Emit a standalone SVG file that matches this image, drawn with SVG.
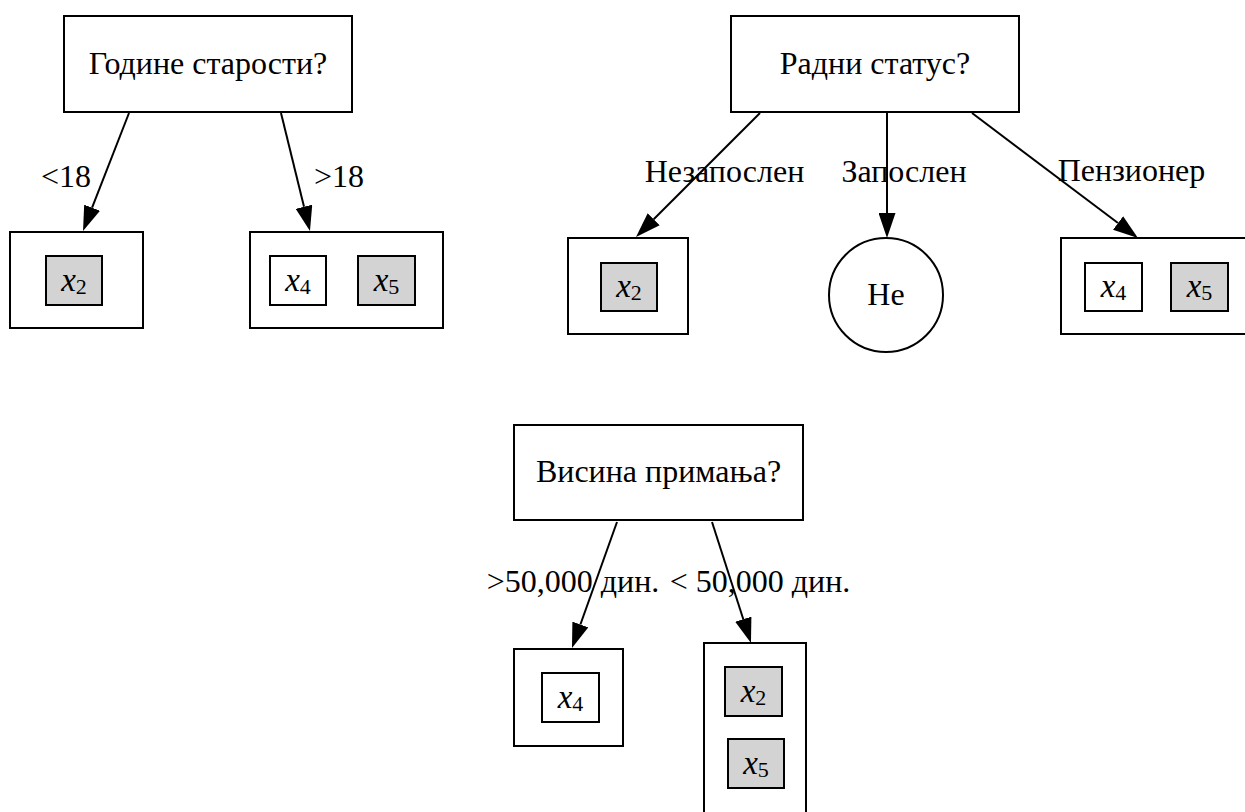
<svg xmlns="http://www.w3.org/2000/svg" width="1245" height="812" viewBox="0 0 1245 812">
  <style>
    .box { fill: #ffffff; stroke: #000000; stroke-width: 2; }
    .item { fill: #ffffff; stroke: #000000; stroke-width: 2; }
    .item.pos { fill: #d3d3d3; }
    .edge { fill: none; stroke: #000000; stroke-width: 2; }
    text { font-family: "Liberation Serif", "Times New Roman", serif; fill: #000000; }
    .q { font-size: 32px; text-anchor: middle; }
    .lbl { font-size: 32px; text-anchor: middle; }
    .var { font-size: 33px; font-style: italic; text-anchor: middle; }
    .sub { font-size: 22px; font-style: normal; }
  </style>
  <defs>
    <marker id="arrow" markerUnits="userSpaceOnUse" markerWidth="25" markerHeight="17" viewBox="0 0 25 17" refX="0" refY="8.5" orient="auto">
      <path d="M0,0 L25,8.5 L0,17 Z" fill="#000000"/>
    </marker>
  </defs>

  <!-- connectors -->
  <g id="edges">
    <line class="edge" x1="129" y1="113" x2="92.1" y2="207.7" marker-end="url(#arrow)"/>
    <line class="edge" x1="281" y1="113" x2="304.0" y2="206.7" marker-end="url(#arrow)"/>
    <line class="edge" x1="760" y1="113" x2="653.7" y2="219.3" marker-end="url(#arrow)"/>
    <line class="edge" x1="887" y1="113" x2="887" y2="213" marker-end="url(#arrow)"/>
    <line class="edge" x1="972" y1="113" x2="1118.0" y2="223.0" marker-end="url(#arrow)"/>
    <line class="edge" x1="617" y1="522" x2="580.4" y2="624.5" marker-end="url(#arrow)"/>
    <line class="edge" x1="712" y1="522" x2="743.3" y2="619.2" marker-end="url(#arrow)"/>
  </g>

  <!-- edge labels -->
  <g id="edge-labels">
    <text class="lbl" x="66" y="187">&lt;18</text>
    <text class="lbl" x="339" y="187">&gt;18</text>
    <text class="lbl" x="724.5" y="182">Незапослен</text>
    <text class="lbl" x="904" y="182">Запослен</text>
    <text class="lbl" x="1131.5" y="181">Пензионер</text>
    <text class="lbl" x="573" y="592">&gt;50,000 дин.</text>
    <text class="lbl" x="760" y="592">&lt; 50,000 дин.</text>
  </g>

  <!-- age tree -->
  <g id="age">
    <rect class="box" x="64" y="16" width="288" height="96"/>
    <text class="q" x="208" y="74">Године старости?</text>
  </g>
  <g id="age-under18">
    <rect class="box" x="10" y="232" width="133" height="96"/>
    <rect class="item pos" x="46" y="256" width="56" height="49"/>
    <text class="var" x="74" y="290.5">x<tspan class="sub" dy="3">2</tspan></text>
  </g>
  <g id="age-over18">
    <rect class="box" x="250" y="232" width="193" height="96"/>
    <rect class="item" x="270" y="256" width="56" height="49"/>
    <text class="var" x="298" y="290.5">x<tspan class="sub" dy="3">4</tspan></text>
    <rect class="item pos" x="358" y="256" width="57" height="49"/>
    <text class="var" x="386.5" y="290.5">x<tspan class="sub" dy="3">5</tspan></text>
  </g>

  <!-- employment tree -->
  <g id="employment">
    <rect class="box" x="731" y="16" width="288" height="96"/>
    <text class="q" x="875" y="74">Радни статус?</text>
  </g>
  <g id="employment-unemployed">
    <rect class="box" x="568" y="238" width="120" height="96"/>
    <rect class="item pos" x="601" y="263" width="56" height="48"/>
    <text class="var" x="629" y="297">x<tspan class="sub" dy="3">2</tspan></text>
  </g>
  <g id="employment-employed">
    <circle class="box" cx="886" cy="295" r="57"/>
    <text class="q" x="886" y="305">Не</text>
  </g>
  <g id="employment-retired">
    <rect class="box" x="1061" y="238" width="200" height="96"/>
    <rect class="item" x="1085" y="263" width="57" height="48"/>
    <text class="var" x="1113.5" y="297">x<tspan class="sub" dy="3">4</tspan></text>
    <rect class="item pos" x="1171" y="263" width="57" height="48"/>
    <text class="var" x="1199.5" y="297">x<tspan class="sub" dy="3">5</tspan></text>
  </g>

  <!-- income tree -->
  <g id="income">
    <rect class="box" x="514" y="425" width="289" height="95"/>
    <text class="q" x="658.5" y="482">Висина примања?</text>
  </g>
  <g id="income-high">
    <rect class="box" x="514" y="649" width="109" height="97"/>
    <rect class="item" x="542" y="673" width="57" height="49"/>
    <text class="var" x="570.5" y="707.5">x<tspan class="sub" dy="3">4</tspan></text>
  </g>
  <g id="income-low">
    <rect class="box" x="704" y="643" width="102" height="190"/>
    <rect class="item pos" x="725" y="667" width="57" height="49"/>
    <text class="var" x="753.5" y="701.5">x<tspan class="sub" dy="3">2</tspan></text>
    <rect class="item pos" x="728" y="739" width="56" height="49"/>
    <text class="var" x="756" y="773.5">x<tspan class="sub" dy="3">5</tspan></text>
  </g>
</svg>
